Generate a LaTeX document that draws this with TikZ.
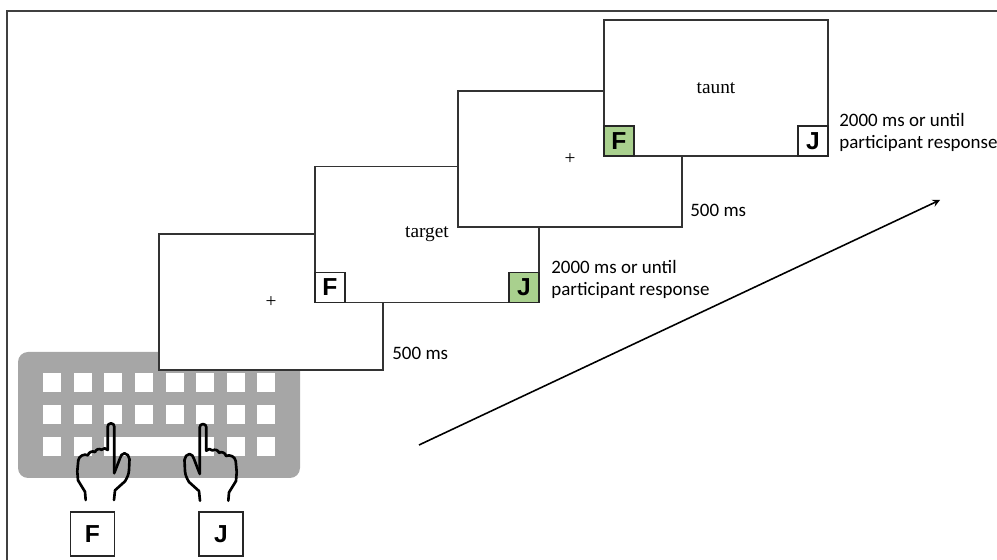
\documentclass[tikz,border=0pt]{standalone}
\usepackage{fontspec}
\setmainfont{Liberation Serif}
\setsansfont{Liberation Sans}
\newfontfamily\labelfont{Carlito}
\usetikzlibrary{positioning}

\definecolor{keygray}{RGB}{166,166,166}
\definecolor{hitgreen}{RGB}{169,208,142}
\definecolor{framegray}{RGB}{64,64,64}

% pointing hand, drawn in pixel units around the finger tip
\tikzset{
	hand/.pic={
		\draw[line width=1.5pt, line cap=round, line join=round]
			(-25.3,-76.7) -- (-26,-68.4) -- (-33,-57) -- (-33.7,-48) -- (-32.7,-37)
			to[bend left=55] (-23,-32) to[bend left=60] (-16,-28.8)
			to[bend left=60] (-9.5,-26.5) to[bend left=60] (-3.3,-26.7)
			-- (-3.3,-3.3) arc (180:0:3.3) -- (3.3,-50);
		\draw[line width=1.5pt, line cap=round, line join=round]
			(3.6,-49) -- (9,-35) to[out=70,in=180] (13.5,-30) to[out=0,in=100] (18.5,-36)
			-- (18,-47) to[out=-95,in=60] (14,-58) -- (4,-67) -- (3,-76.7);
	}
}

\begin{document}
\begin{tikzpicture}[
		screen/.style={draw=black!80, fill=white, line width=0.7pt, minimum width=4.48cm,
			minimum height=2.72cm, inner sep=0, outer sep=0, font=\fontsize{11}{12}\selectfont},
		respkey/.style={draw=black!85, fill=white, line width=0.6pt, minimum size=0.6cm, inner sep=0,
			outer sep=0, font=\sffamily\bfseries\fontsize{14}{14}\selectfont},
		timing/.style={font=\labelfont\fontsize{10.8}{12.5}\selectfont, inner sep=0, align=left}]
		\useasboundingbox (0,0) rectangle (19.94,11.2);
		\def\keyw{0.36};
		\def\keyh{0.38};
		% keyboard
		\fill[keygray, rounded corners=0.2cm] (0.36,1.64) rectangle (6.0,4.16);
		\foreach \y in {3.55,2.91} {
			\foreach \c in {0,...,7} {
				\fill[white] (1.044+0.612*\c-\keyw/2,\y-\keyh/2) rectangle ++(\keyw,\keyh);
			}
		}
		\foreach \c in {0,1,6,7} {
			\fill[white] (1.044+0.612*\c-\keyw/2,2.27-\keyh/2) rectangle ++(\keyw,\keyh);
		}
		\fill[white] (2.088,2.27-\keyh/2) rectangle (4.284,2.27+\keyh/2); % space bar
		% hands on F and J
		\pic (lefthand) [scale=0.02] at (2.22,2.734) {hand};
		\pic (righthand) [xscale=-0.02, yscale=0.02] at (4.06,2.72) {hand};
		\node[respkey, minimum size=0.88cm] (keyF) at (1.85,0.52) {F};
		\node[respkey, minimum size=0.88cm] (keyJ) at (4.42,0.52) {J};
		% trial sequence
		\node[screen] (fix1) at (5.42,5.16) {+};
		\node[screen] (tgt) at (8.54,6.51) {target};
		\node[respkey, anchor=south west] (tgtF) at (tgt.south west) {F};
		\node[respkey, fill=hitgreen, anchor=south east] (tgtJ) at (tgt.south east) {J};
		\node[screen] (fix2) at (11.40,8.02) {+};
		\node[screen] (tnt) at (14.32,9.44) {taunt};
		\node[respkey, fill=hitgreen, anchor=south west] (tntF) at (tnt.south west) {F};
		\node[respkey, anchor=south east] (tntJ) at (tnt.south east) {J};
		\node[timing, above right=0.2cm and 0.18cm of fix1.south east] (dur1) {500 ms};
		\node[timing, above right=0.08cm and 0.24cm of tgt.south east] (dur2) {2000 ms or until\\participant response};
		\node[timing, above right=0.2cm and 0.16cm of fix2.south east] (dur3) {500 ms};
		\node[timing, above right=0.08cm and 0.22cm of tnt.south east] (dur4) {2000 ms or until\\participant response};
		% time axis
		\coordinate (tstart) at (8.38,2.30);
		\coordinate (tend) at (18.8,7.2);
		\draw[-stealth, line width=0.9pt] (tstart) -- (tend);
		\draw[framegray, line width=1.1pt] (0.14,0) -- (0.14,10.98) -- (19.94,10.98);
		\end{tikzpicture}
\end{document}
